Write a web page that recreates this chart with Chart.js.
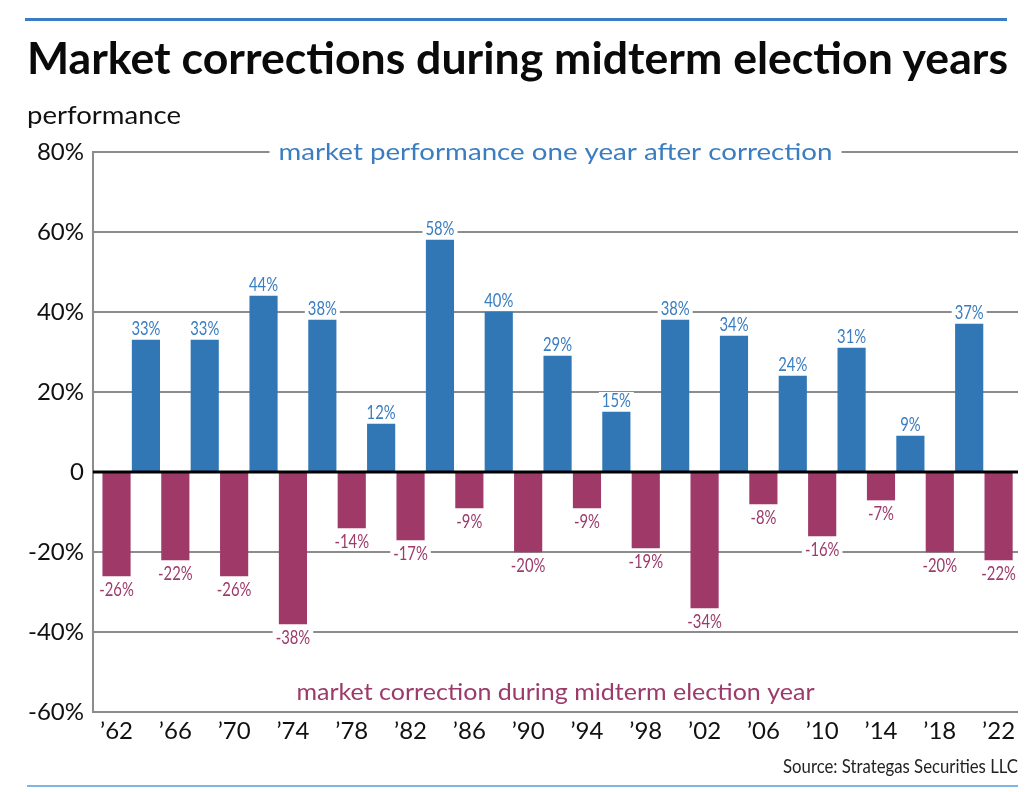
<!DOCTYPE html>
<html>
<head>
<meta charset="utf-8">
<script src="https://cdn.jsdelivr.net/npm/chart.js@4.4.1/dist/chart.umd.min.js"></script>
<style>
  body { margin: 0; background: #fff; }
  #wrap { position: relative; width: 1036px; height: 792px; overflow: hidden; }
  #chart { position: absolute; left: 0; top: 0; }
  .t { position: absolute; white-space: nowrap; line-height: 1; transform-origin: 0 0; font-family: Lato, sans-serif; }
  .rule { position: absolute; }
</style>
</head>
<body>
<div id="wrap">
  <canvas id="chart" width="1036" height="792"></canvas>
  <div class="rule" style="left:25px;top:18px;width:982px;height:3px;background:#3a7dc2"></div>
  <div class="t" data-w="981" style="left:27px;top:36px;font-weight:700;font-size:43px;color:#0a0a0a">Market corrections during midterm election years</div>
  <div class="t" data-w="154" style="left:27px;top:102px;font-size:25px;color:#111">performance</div>
  <div class="t" data-w="235" style="left:783px;top:755px;font-size:20px;color:#222">Source: Strategas Securities LLC</div>
  <div class="rule" style="left:27px;top:785px;width:991px;height:2px;background:#7db5e4"></div>
</div>
<script>
// waardes
const years = ['\u201962', '\u201966', '\u201970', '\u201974', '\u201978', '\u201982', '\u201986', '\u201990',
               '\u201994', '\u201998', '\u201902', '\u201906', '\u201910', '\u201914', '\u201918', '\u201922'];
const correction = [-26, -22, -26, -38, -14, -17, -9, -20, -9, -19, -34, -8, -16, -7, -20, -22];
const afterYear = [33, 33, 44, 38, 12, 58, 40, 29, 15, 38, 34, 24, 31, 9, 37];
const yTicks = [80, 60, 40, 20, 0, -20, -40, -60];

const blue = '#3177b6';
const maroon = '#9e3968';
const blueText = '#3a7dc0';
const maroonText = '#9c3a6b';

// tekst horizontaal passend maken
function fitHtml() {
  document.querySelectorAll('.t[data-w]').forEach(el => {
    el.style.transform = 'none';
    const k = Number(el.dataset.w) / el.getBoundingClientRect().width;
    el.style.transform = 'scaleX(' + k + ')';
  });
}

function fitText(ctx, txt, x, y, w) {
  const nat = ctx.measureText(txt).width;
  ctx.save();
  ctx.translate(x, y);
  ctx.scale(w / nat, 1);
  ctx.textAlign = 'center';
  ctx.fillText(txt, 0, 0);
  ctx.restore();
}

const labelPlugin = {
  id: 'labels',
  afterDatasetsDraw(chart) {
    const ctx = chart.ctx;
    const area = chart.chartArea;
    const ys = chart.scales.y;
    const mid = (area.left + area.right) / 2;

    // nul-lijn
    const y0 = ys.getPixelForValue(0);
    ctx.save();
    ctx.strokeStyle = '#000';
    ctx.lineWidth = 3;
    ctx.beginPath();
    ctx.moveTo(area.left, y0);
    ctx.lineTo(area.right, y0);
    ctx.stroke();

    // teksten in de grafiek
    ctx.font = '23px Lato';
    ctx.textBaseline = 'alphabetic';
    const yTop = ys.getPixelForValue(80);
    ctx.fillStyle = '#fff';
    ctx.fillRect(mid - 277 - 9, yTop - 4, 554 + 18, 8);
    ctx.fillStyle = blueText;
    fitText(ctx, 'market performance one year after correction', mid, yTop + 8, 554);
    ctx.fillStyle = maroonText;
    fitText(ctx, 'market correction during midterm election year', mid, 700, 518);

    // labels bij de balken
    ctx.font = '19px Lato';
    chart.data.datasets.forEach((ds, di) => {
      const meta = chart.getDatasetMeta(di);
      meta.data.forEach((bar, i) => {
        const v = ds.data[i].y;
        const txt = v + '%';
        const w = ctx.measureText(txt).width * 0.78;
        const base = v >= 0 ? bar.y - 5 : bar.y + 20;
        ctx.fillStyle = '#fff';
        ctx.fillRect(bar.x - w / 2 - 3, base - 15, w + 6, 18);
        ctx.fillStyle = v >= 0 ? blueText : maroonText;
        ctx.save();
        ctx.translate(bar.x, base);
        ctx.scale(0.78, 1);
        ctx.textAlign = 'center';
        ctx.fillText(txt, 0, 0);
        ctx.restore();
      });
    });
    ctx.restore();
  }
};

const chartCanvas = document.getElementById('chart');

function createChart(canvasElement) {
  new Chart(canvasElement, {
    type: 'bar',
    data: {
      datasets: [
        {
          label: 'market correction during midterm election year',
          data: correction.map((v, i) => ({ x: 2 * i, y: v })),
          backgroundColor: maroon,
          barThickness: 27.5,
          grouped: false
        },
        {
          label: 'market performance one year after correction',
          data: afterYear.map((v, i) => ({ x: 2 * i + 1, y: v })),
          backgroundColor: blue,
          barThickness: 27.5,
          grouped: false
        }
      ]
    },
    options: {
      responsive: false,
      animation: false,
      events: [],
      layout: { padding: { left: 0, right: 18, top: 152, bottom: 0 } },
      plugins: { legend: { display: false }, tooltip: { enabled: false } },
      scales: {
        x: {
          type: 'linear',
          offset: false,
          min: -0.8,
          max: 30.66,
          afterBuildTicks: s => { s.ticks = years.map((y, i) => ({ value: 2 * i })); },
          afterFit: s => { s.height = 80; },
          ticks: {
            autoSkip: false,
            maxRotation: 0,
            padding: 5,
            color: '#111',
            font: { family: 'Lato', size: 24 },
            callback: v => years[v / 2]
          },
          grid: { display: false, offset: false, drawTicks: false },
          border: { display: false }
        },
        y: {
          min: -60,
          max: 80,
          afterBuildTicks: s => { s.ticks = yTicks.map(v => ({ value: v })); },
          afterFit: s => { s.width = 93; },
          ticks: {
            padding: 9,
            color: '#111',
            font: { family: 'Lato', size: 24 },
            callback: v => v === 0 ? '0' : v + '%'
          },
          grid: {
            drawTicks: false,
            lineWidth: 2,
            color: c => c.tick && c.tick.value === 0 ? 'rgba(0,0,0,0)' : '#8c8c8c'
          },
          border: { display: true, color: '#8c8c8c', width: 2 }
        }
      }
    },
    plugins: [labelPlugin]
  });
}

document.fonts.ready.then(() => {
  fitHtml();
  createChart(chartCanvas);
});
</script>
</body>
</html>
